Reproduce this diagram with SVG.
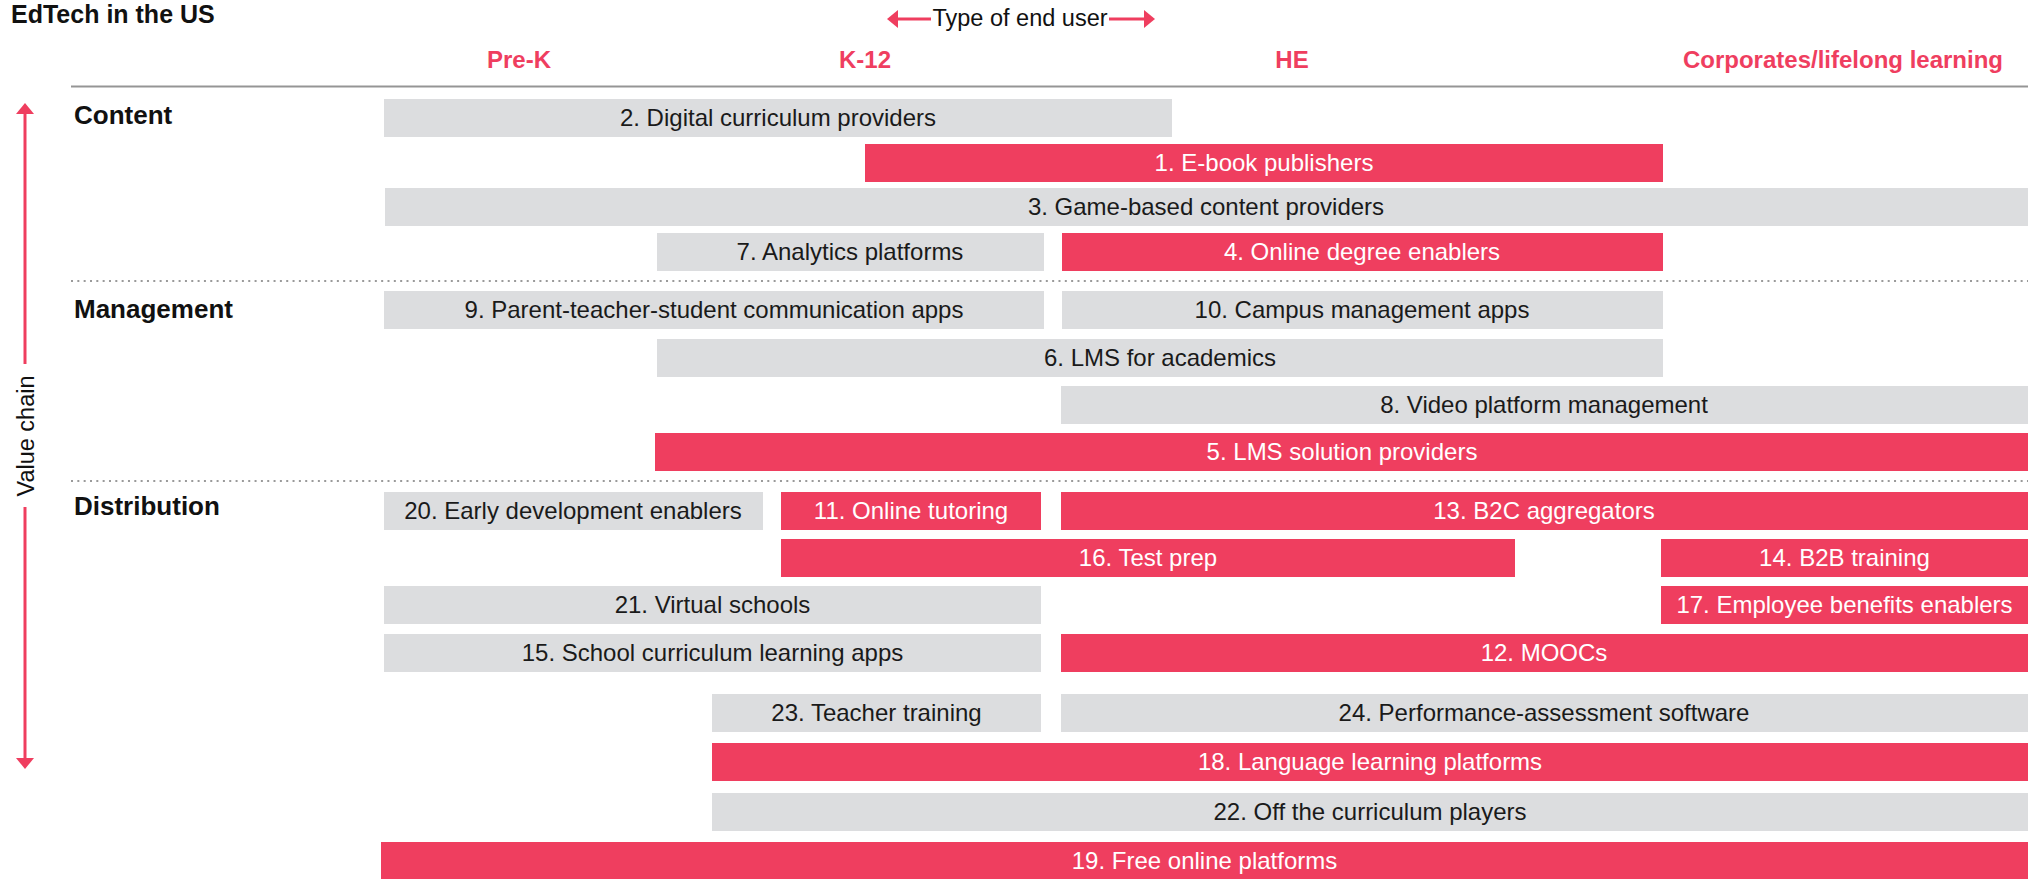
<svg xmlns="http://www.w3.org/2000/svg" width="2038" height="879" viewBox="0 0 2038 879">
<style>
text{font-family:"Liberation Sans",Arial,Helvetica,sans-serif}
.g{fill:#DCDDDF}
.r{fill:#EF3E5F}
.tg{font-size:24px;fill:#1a1a1a;text-anchor:middle}
.tr{font-size:24px;fill:#ffffff;text-anchor:middle}
.hd{font-size:24px;font-weight:bold;fill:#EF3E5F;text-anchor:middle}
.cat{font-size:26px;font-weight:bold;fill:#111}
.ax{stroke:#EF3E5F;stroke-width:3;fill:none}
.dot{stroke:#9a9a9a;stroke-width:2;stroke-dasharray:2 4.33}
</style>
<defs>
<marker id="ah" viewBox="0 0 11 18" refX="0" refY="9" markerWidth="11" markerHeight="18" markerUnits="userSpaceOnUse" orient="auto">
<path d="M0,0 L11,9 L0,18 z" fill="#EF3E5F"/>
</marker>
</defs>
<rect width="2038" height="879" fill="#ffffff"/>
<text x="11" y="23" font-size="25" font-weight="bold" fill="#111">EdTech in the US</text>
<text x="1020" y="26" font-size="23.5" fill="#111" text-anchor="middle">Type of end user</text>
<g id="headers">
<text class="hd" x="519" y="68">Pre-K</text>
<text class="hd" x="865" y="68">K-12</text>
<text class="hd" x="1292" y="68">HE</text>
<text class="hd" x="1843" y="68">Corporates/lifelong learning</text>
</g>
<line x1="71" y1="86.5" x2="2028" y2="86.5" stroke="#959595" stroke-width="2"/>
<line class="dot" x1="71" y1="281" x2="2028" y2="281"/>
<line class="dot" x1="71" y1="481" x2="2028" y2="481"/>
<text class="cat" x="74" y="124">Content</text>
<text class="cat" x="74" y="318">Management</text>
<text class="cat" x="74" y="515">Distribution</text>
<text transform="translate(33.5,436) rotate(-90)" font-size="23.5" fill="#111" text-anchor="middle">Value chain</text>
<g id="connectors">
<line class="ax" x1="25" y1="364" x2="25" y2="114" marker-end="url(#ah)"/>
<line class="ax" x1="25" y1="507" x2="25" y2="758" marker-end="url(#ah)"/>
<line class="ax" x1="931" y1="19" x2="898" y2="19" marker-end="url(#ah)"/>
<line class="ax" x1="1109" y1="19" x2="1144" y2="19" marker-end="url(#ah)"/>
</g>
<g id="n2"><rect class="g" x="384" y="99" width="788" height="38"/><text class="tg" x="778" y="125.5">2. Digital curriculum providers</text></g>
<g id="n1"><rect class="r" x="865" y="144" width="798" height="38"/><text class="tr" x="1264" y="170.5">1. E-book publishers</text></g>
<g id="n3"><rect class="g" x="385" y="188" width="1643" height="38"/><text class="tg" x="1206" y="214.5">3. Game-based content providers</text></g>
<g id="n7"><rect class="g" x="657" y="233" width="387" height="38"/><text class="tg" x="850" y="259.5">7. Analytics platforms</text></g>
<g id="n4"><rect class="r" x="1062" y="233" width="601" height="38"/><text class="tr" x="1362" y="259.5">4. Online degree enablers</text></g>
<g id="n9"><rect class="g" x="384" y="291" width="660" height="38"/><text class="tg" x="714" y="317.5">9. Parent-teacher-student communication apps</text></g>
<g id="n10"><rect class="g" x="1062" y="291" width="601" height="38"/><text class="tg" x="1362" y="317.5">10. Campus management apps</text></g>
<g id="n6"><rect class="g" x="657" y="339" width="1006" height="38"/><text class="tg" x="1160" y="365.5">6. LMS for academics</text></g>
<g id="n8"><rect class="g" x="1061" y="386" width="967" height="38"/><text class="tg" x="1544" y="412.5">8. Video platform management</text></g>
<g id="n5"><rect class="r" x="655" y="433" width="1373" height="38"/><text class="tr" x="1342" y="459.5">5. LMS solution providers</text></g>
<g id="n20"><rect class="g" x="384" y="492" width="379" height="38"/><text class="tg" x="573" y="518.5">20. Early development enablers</text></g>
<g id="n11"><rect class="r" x="781" y="492" width="260" height="38"/><text class="tr" x="911" y="518.5">11. Online tutoring</text></g>
<g id="n13"><rect class="r" x="1061" y="492" width="967" height="38"/><text class="tr" x="1544" y="518.5">13. B2C aggregators</text></g>
<g id="n16"><rect class="r" x="781" y="539" width="734" height="38"/><text class="tr" x="1148" y="565.5">16. Test prep</text></g>
<g id="n14"><rect class="r" x="1661" y="539" width="367" height="38"/><text class="tr" x="1844.5" y="565.5">14. B2B training</text></g>
<g id="n21"><rect class="g" x="384" y="586" width="657" height="38"/><text class="tg" x="712.5" y="612.5">21. Virtual schools</text></g>
<g id="n17"><rect class="r" x="1661" y="586" width="367" height="38"/><text class="tr" x="1844.5" y="612.5">17. Employee benefits enablers</text></g>
<g id="n15"><rect class="g" x="384" y="634" width="657" height="38"/><text class="tg" x="712.5" y="660.5">15. School curriculum learning apps</text></g>
<g id="n12"><rect class="r" x="1061" y="634" width="967" height="38"/><text class="tr" x="1544" y="660.5">12. MOOCs</text></g>
<g id="n23"><rect class="g" x="712" y="694" width="329" height="38"/><text class="tg" x="876.5" y="720.5">23. Teacher training</text></g>
<g id="n24"><rect class="g" x="1061" y="694" width="967" height="38"/><text class="tg" x="1544" y="720.5">24. Performance-assessment software</text></g>
<g id="n18"><rect class="r" x="712" y="743" width="1316" height="38"/><text class="tr" x="1370" y="769.5">18. Language learning platforms</text></g>
<g id="n22"><rect class="g" x="712" y="793" width="1316" height="38"/><text class="tg" x="1370" y="819.5">22. Off the curriculum players</text></g>
<g id="n19"><rect class="r" x="381" y="842" width="1647" height="38"/><text class="tr" x="1204.5" y="868.5">19. Free online platforms</text></g>
</svg>
